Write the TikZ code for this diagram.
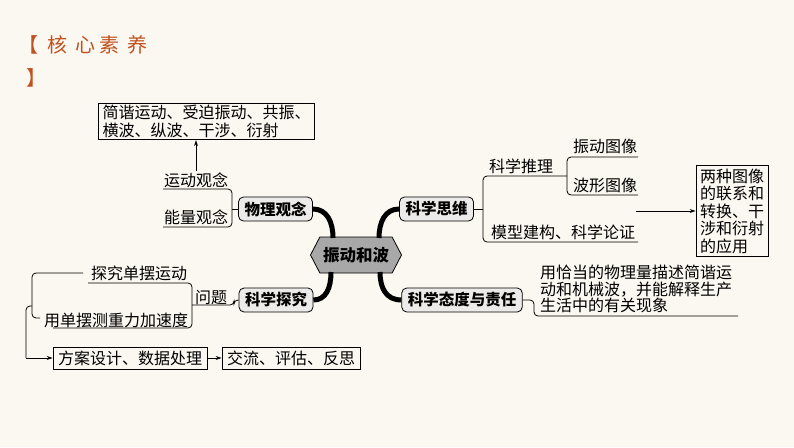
\documentclass[tikz,border=0pt]{standalone}
\usepackage{fontspec}
\setmainfont{Noto Sans CJK SC}
\usetikzlibrary{arrows.meta,shapes.symbols}
\definecolor{paper}{HTML}{FBF7F1}
\definecolor{rust}{HTML}{C0521F}
\definecolor{hubgray}{HTML}{A8A8A8}
\definecolor{topicgray}{HTML}{ECEBE9}

\begin{document}
\begin{tikzpicture}[x=1pt, y=-1pt,
	every node/.style={font=\fontsize{16}{17.5}\selectfont, inner sep=1pt},
	hub/.style={shape=signal, signal to=east and west, signal pointer angle=125, draw, thick, fill=hubgray, minimum width=91pt, minimum height=36pt, inner sep=0pt, font=\fontsize{16.5}{18}\selectfont\bfseries},
	topic/.style={draw, thick, rounded corners=5pt, fill=topicgray, minimum height=24pt, inner xsep=6pt, font=\fontsize{15.5}{18}\selectfont\bfseries},
	note/.style={draw, thick, align=left, inner xsep=4pt, inner ysep=2pt},
	twig/.style={thick, rounded corners=4pt},
	limb/.style={line width=5pt},
	link/.style={thick, -{Stealth[length=6pt, width=4pt]}}]
	\useasboundingbox (0,0) rectangle (794,447);
	\fill[paper] (0,0) rectangle (794,447);
	\node[anchor=west, text=rust, align=left, font=\fontsize{20}{33}\selectfont] (biaoti) at (17,61) {【\hspace{9pt}核\hspace{8pt}心\hspace{4pt}素\hspace{8pt}养\\\hspace{8pt}】};
	% centre and topics
	\node[hub] (hub) at (356,255) {振动和波};
	\node[topic] (wuli) at (275.5,209) {物理观念};
	\node[topic] (siwei) at (436.5,209) {科学思维};
	\node[topic] (tanjiu) at (276,300) {科学探究};
	\node[topic] (taidu) at (462,300) {科学态度与责任};
	\draw[limb] (wuli.east) .. controls (327,209) and (333,222) .. (333,238);
	\draw[limb] (siwei.west) .. controls (385,209) and (379,222) .. (379,238);
	\draw[limb] (tanjiu.east) .. controls (326,300) and (331,288) .. (331,272);
	\draw[limb] (taidu.west) .. controls (386,300) and (380,288) .. (380,272);
	% 物理观念
	\node (yundong) at (196,180) {运动观念};
	\node (nengliang) at (196,217) {能量观念};
	\node[note] (guannian) at (206.5,121.5) {简谐运动、受迫振动、共振、\\横波、纵波、干涉、衍射};
	\draw[twig] (wuli.west) -- (232,209);
	\draw[twig] (163,189) -| (232,227) -- (163,227);
	\draw[link] (yundong.north) -- (yundong.north |- guannian.south);
	% 科学思维
	\node (tuili) at (521,166) {科学推理};
	\node (zhendong) at (605,146) {振动图像};
	\node (boxing) at (605,185) {波形图像};
	\node (moxing) at (563,232) {模型建构、科学论证};
	\node[note, inner ysep=3pt] (yingyong) at (732,211) {两种图像\\的联系和\\转换、干\\涉和衍射\\的应用};
	\draw[twig] (siwei.east) -- (483,209);
	\draw[twig] (567,176) -- (483,176) |- (638,242);
	\draw[twig] (638,157) -- (567,157) |- (638,195);
	\draw[link] (moxing.east |- yingyong.west) -- (yingyong.west);
	% 科学探究
	\node (danbai) at (139,273) {探究单摆运动};
	\node (celiang) at (116,320) {用单摆测重力加速度};
	\node (wenti) at (211,298) {问题};
	\node[note, minimum height=22pt, inner xsep=5pt] (fangan) at (130,358) {方案设计、数据处理};
	\node[note, minimum height=22pt, inner xsep=5pt] (jiaoliu) at (291,358) {交流、评估、反思};
	\draw[twig] (tanjiu.west) -- (234,300) |- (192,305);
	\draw[twig] (88,283) -| (192,328) -- (53,328);
	\draw[twig] (83,273) -| (32,318) -- (40,318);
	\draw[twig] (32,306) -- (26,306) -- (26,358);
	\draw[link] (26,358) -- (fangan.west);
	\draw[link] (fangan.east) -- (jiaoliu.west);
	% 科学态度与责任
	\node[align=left, font=\fontsize{16}{16.5}\selectfont] (miaoshu) at (636,289) {用恰当的物理量描述简谐运\\动和机械波，并能解释生产\\生活中的有关现象};
	\draw[twig] (taidu.east) -| (534,316) -- (738,316);
\end{tikzpicture}
\end{document}
